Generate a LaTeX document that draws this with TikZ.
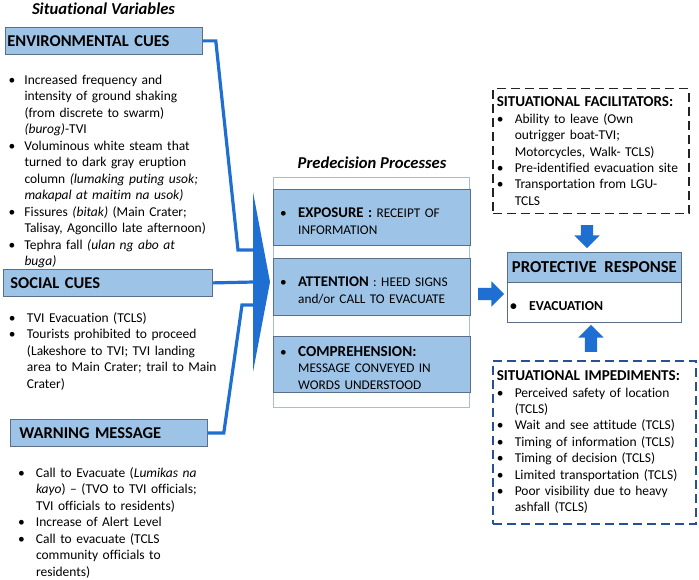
\documentclass[tikz,border=0pt]{standalone}
\usepackage{fontspec}
\setmainfont{Carlito}[Ligatures={TeX,NoCommon}]
\usetikzlibrary{positioning,shapes.arrows}
\definecolor{hdrblue}{RGB}{157,195,230}
\definecolor{hdrline}{RGB}{90,110,135}
\definecolor{linkblue}{RGB}{31,110,210}
\definecolor{paleline}{RGB}{170,188,208}
\definecolor{impblue}{RGB}{40,80,150}
\definecolor{facline}{RGB}{35,35,35}
\tikzset{
  hdr/.style   ={draw=hdrline, fill=hdrblue, line width=0.8pt, anchor=north west, align=left, inner ysep=0pt, minimum height=27pt, font=\fontsize{16.5}{18}\selectfont\bfseries},
  lst/.style   ={anchor=north west, inner sep=0pt, align=left, text width=240pt, font=\fontsize{13.5}{16.5}\selectfont},
  prc/.style   ={draw=hdrline, fill=hdrblue, line width=0.7pt, anchor=north west, align=left, inner xsep=6.8pt, text width=183pt, font=\fontsize{13.3}{16.5}\selectfont},
  dbox/.style  ={draw, dashed, dash pattern=on 9pt off 5pt, line width=1.5pt, anchor=north west, align=left, inner xsep=4pt, font=\fontsize{13.5}{16.4}\selectfont},
  link/.style  ={draw=linkblue, line width=3.2pt},
  blkarr/.style={single arrow, fill=linkblue, inner sep=0pt, text height=12pt, text depth=0pt, single arrow head extend=6.5pt},
  ttl/.style   ={font=\fontsize{16.6}{19}\selectfont\bfseries\itshape},
}
\newcommand{\itm}[1][18pt]{\par\noindent\hangindent=#1\hangafter=1\makebox[#1][l]{\textbullet}}

\begin{document}
\begin{tikzpicture}[x=1pt,y=-1pt]
  \useasboundingbox (0,0) rectangle (699,580);

  % left column: situational variables
  \node[ttl] (sitvar) at (103.5,9) {Situational Variables};
  \node[hdr, inner xsep=2pt, text width=193pt] (env) at (5,27) {ENVIRONMENTAL CUES};
  \node[lst] (envlst) at (8.5,67.5) {%
    \itm[15.8pt]Increased frequency and\newline intensity of ground shaking\newline (from discrete to swarm)\newline \textit{(burog)}-TVI
    \itm[15.8pt]Voluminous white steam that\newline turned to dark gray eruption\newline column \textit{(lumaking puting usok;}\newline \textit{makapal at maitim na usok)}
    \itm[15.8pt]Fissures \textit{(bitak)} (Main Crater;\newline Talisay, Agoncillo late afternoon)
    \itm[15.8pt]Tephra fall \textit{(ulan ng abo at}\newline \textit{buga)}\par};

  \node[hdr, inner xsep=7pt, text width=195pt] (soc) at (3,269) {SOCIAL CUES};
  \node[lst] (soclst) at (8.8,305.5) {%
    \itm TVI Evacuation (TCLS)
    \itm Tourists prohibited to proceed\newline (Lakeshore to TVI; TVI landing\newline area to Main Crater; trail to Main\newline Crater)\par};

  \node[hdr, inner xsep=9pt, text width=179pt] (warn) at (10,419) {WARNING MESSAGE};
  \node[lst] (warnlst) at (17.8,460.5) {%
    \itm Call to Evacuate (\textit{Lumikas na}\newline \textit{kayo}) -- (TVO to TVI officials;\newline TVI officials to residents)
    \itm Increase of Alert Level
    \itm Call to evacuate (TCLS\newline community officials to\newline residents)\par};

  % wedge and connectors
  \coordinate (wtop) at (253,192);
  \coordinate (wtip) at (270,282);
  \coordinate (wbot) at (253,372);
  \fill[linkblue] (wtop) -- (wtip) -- (wbot) -- cycle;
  \coordinate (in1) at (254,250);
  \coordinate (in2) at (254,282);
  \coordinate (in3) at (254,305);
  \draw[link] (env.east) -- ++(13,0) -- ([xshift=-16pt]in1) -- (in1);
  \draw[link] (soc.east) -- (in2);
  \draw[link] (warn.east) -- ++(16,0) -- ([xshift=-12pt]in3) -- (in3);

  % predecision processes
  \node[ttl] (pretitle) at (372,163) {Predecision Processes};
  \node[draw=paleline, line width=0.8pt, anchor=north west, minimum width=196pt, minimum height=230pt] (pre) at (273,177) {};
  \node[prc, minimum height=56.5pt] (exp) at (273,189) {%
    \itm{\fontsize{14.8}{16.5}\selectfont\bfseries EXPOSURE :} RECEIPT OF\newline INFORMATION\par};
  \node[prc, minimum height=57pt] (att) at (273,258) {%
    \itm{\fontsize{14.8}{16.5}\selectfont\bfseries ATTENTION} : HEED SIGNS\newline and/or CALL TO EVACUATE\par};
  \node[prc, minimum height=55.5pt] (com) at (273,336) {%
    \itm{\fontsize{15.2}{16.5}\selectfont\bfseries COMPREHENSION:}\newline MESSAGE CONVEYED IN\newline WORDS UNDERSTOOD\par};

  % protective response
  \node[hdr, minimum width=174pt, minimum height=30pt, align=center, font=\fontsize{16.7}{18}\selectfont\bfseries] (prh) at (507,252) {PROTECTIVE\ \ RESPONSE};
  \node[draw=hdrline, line width=0.8pt, fill=white, anchor=north west, minimum height=39.5pt, inner xsep=2.8pt, text width=168.4pt, align=left, font=\fontsize{13.7}{16}\selectfont\bfseries] (prb) at (507,282) {\itm[19pt]EVACUATION\par};
  \node[blkarr, minimum height=26pt] (toresp) at (488,294) {};

  % situational facilitators and impediments
  \node[dbox, draw=facline, minimum width=196pt, minimum height=125pt, text width=188pt] (fac) at (492,88) {%
    \noindent{\fontsize{15.1}{16.4}\selectfont\bfseries SITUATIONAL FACILITATORS:}
    \itm Ability to leave (Own\newline outrigger boat-TVI;\newline Motorcycles, Walk- TCLS)
    \itm Pre-identified evacuation site
    \itm Transportation from LGU-\newline TCLS\par};
  \node[dbox, draw=impblue, minimum width=203pt, minimum height=163pt, text width=195pt] (imp) at (492,360) {%
    \noindent{\fontsize{15.1}{16.4}\selectfont\bfseries SITUATIONAL IMPEDIMENTS:}
    \itm Perceived safety of location\newline (TCLS)
    \itm Wait and see attitude (TCLS)
    \itm Timing of information (TCLS)
    \itm Timing of decision (TCLS)
    \itm Limited transportation (TCLS)
    \itm Poor visibility due to heavy\newline ashfall (TCLS)\par};
  \node[blkarr, rotate=-90, minimum height=23pt] (facarr) at (587,233.5) {};
  \node[blkarr, rotate=90, minimum height=27pt] (imparr) at (591,341.5) {};
\end{tikzpicture}
\end{document}
